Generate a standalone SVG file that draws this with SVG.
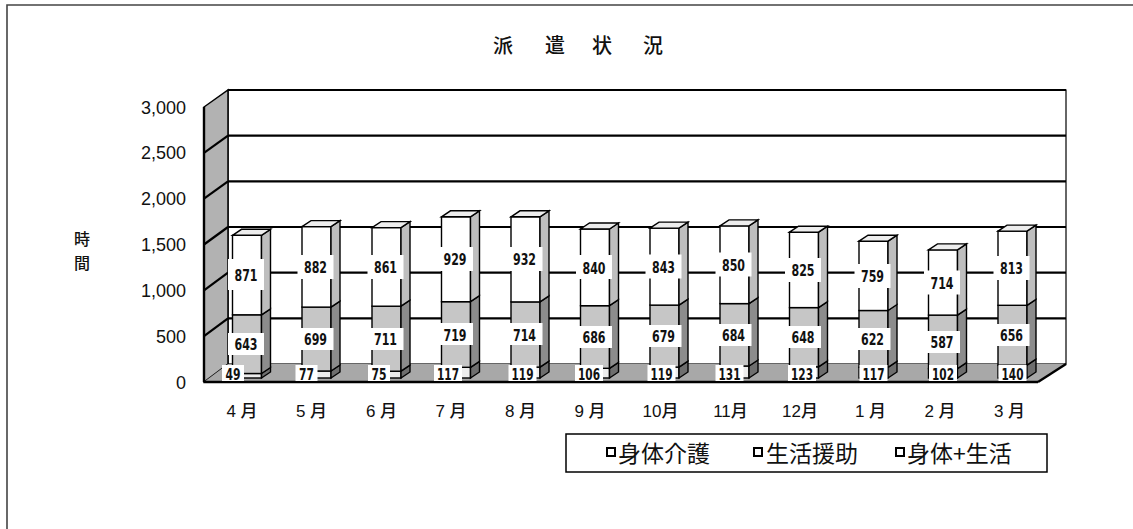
<svg xmlns="http://www.w3.org/2000/svg" width="1133" height="529" viewBox="0 0 1133 529">
<style>
.frame{fill:none;stroke:#444;stroke-width:1.6}
.wall{fill:#fff;stroke:#000;stroke-width:1.2}
.grid{stroke:#000;stroke-width:2.2;fill:none}
.lwall{fill:#b2b2b2;stroke:#000;stroke-width:1.5}
.floor{fill:#a8a8a8;stroke:none}
.edge{stroke:#000;stroke-width:2.4;fill:none}
.bar rect,.bar polygon.s,.bar polygon.tp{stroke:#000;stroke-width:1.4}
.f1{fill:#ececec}.f2{fill:#c6c6c6}.f3{fill:#fff}
.s1{fill:#6e6e6e}.s2{fill:#8c8c8c}.s3{fill:#bebebe}.tp{fill:#ededed}
.bar rect.lb{fill:#fff;stroke:none}
.v{font-family:"Liberation Sans Narrow","DejaVu Sans Condensed","Liberation Sans",sans-serif;font-size:16px;font-weight:bold;text-anchor:middle;fill:#111}
.m{font-family:"Liberation Sans","Noto Sans CJK JP",sans-serif;font-size:17px;font-weight:500;text-anchor:middle;fill:#111}
.ax{font-family:"Liberation Sans",sans-serif;font-size:18px;text-anchor:end;fill:#111}
.cjk{font-family:"Noto Sans CJK JP",sans-serif;fill:#111}
.key{fill:#fff;stroke:#000;stroke-width:2}
</style>

<path class="frame" d="M7,529 V5 H1133"/>

<g id="title"><text class="cjk" font-size="20" font-weight="500" x="493 511 545 563 592 611 643" y="53">派 遣 状 況</text></g>

<g id="plot">
  <rect class="wall" x="228" y="90" width="838" height="274"/>
  <line class="grid" x1="228" y1="90" x2="1066" y2="90" stroke-width="2.6"/>
  <line class="grid" x1="228" y1="135.7" x2="1066" y2="135.7"/>
  <line class="grid" x1="228" y1="181.3" x2="1066" y2="181.3"/>
  <line class="grid" x1="228" y1="227" x2="1066" y2="227"/>
  <line class="grid" x1="228" y1="272.7" x2="1066" y2="272.7"/>
  <line class="grid" x1="228" y1="318.3" x2="1066" y2="318.3"/>
  <polygon class="lwall" points="204,107 228,90 228,364 204,382"/>
  <line class="grid" x1="204" y1="152.8" x2="228" y2="135.7"/>
  <line class="grid" x1="204" y1="198.7" x2="228" y2="181.3"/>
  <line class="grid" x1="204" y1="244.5" x2="228" y2="227"/>
  <line class="grid" x1="204" y1="290.3" x2="228" y2="272.7"/>
  <line class="grid" x1="204" y1="336.2" x2="228" y2="318.3"/>
  <polygon class="floor" points="204,382 228,364 1066,364 1038,382"/>
  <line class="edge" x1="204" y1="382" x2="1038" y2="382"/>
  <line class="edge" x1="1038" y1="382" x2="1066" y2="364" stroke-width="1.5"/>
  <line class="edge" x1="204" y1="107" x2="204" y2="382" stroke-width="2"/>
</g>

<g id="y-axis">
  <text class="ax" x="186" y="114">3,000</text>
  <text class="ax" x="186" y="159">2,500</text>
  <text class="ax" x="186" y="205">2,000</text>
  <text class="ax" x="186" y="251">1,500</text>
  <text class="ax" x="186" y="297">1,000</text>
  <text class="ax" x="186" y="343">500</text>
  <text class="ax" x="186" y="389">0</text>
  <text class="cjk" font-size="16" font-weight="500" x="74" y="245">時</text>
  <text class="cjk" font-size="16" font-weight="500" x="74" y="269">間</text>
</g>

<g id="bar-apr" class="bar" transform="translate(232.5,0)">
  <rect class="f1" x="0" y="373.5" width="29" height="4.5"/><polygon class="s s1" points="29,378 38,372 38,367.5 29,373.5"/>
  <rect class="f2" x="0" y="314.8" width="29" height="58.7"/><polygon class="s s2" points="29,373.5 38,367.5 38,308.8 29,314.8"/>
  <rect class="f3" x="0" y="235.3" width="29" height="79.5"/><polygon class="s s3" points="29,314.8 38,308.8 38,229.3 29,235.3"/>
  <polygon class="tp" points="0,235.3 9,229.3 38,229.3 29,235.3"/>
  <rect class="lb" x="-4.5" y="259" width="36" height="31"/><text class="v" x="13.5" y="281" textLength="23" lengthAdjust="spacingAndGlyphs">871</text>
  <rect class="lb" x="-4.5" y="333" width="36" height="22"/><text class="v" x="13.5" y="350" textLength="23" lengthAdjust="spacingAndGlyphs">643</text>
  <rect class="lb" x="-10.5" y="365" width="22" height="16"/><text class="v" x="0.5" y="379.5" textLength="15" lengthAdjust="spacingAndGlyphs">49</text>
  <text class="m" x="9.5" y="417">4 月</text>
</g>

<g id="bar-may" class="bar" transform="translate(302,0)">
  <rect class="f1" x="0" y="371" width="29" height="7"/><polygon class="s s1" points="29,378 38,372 38,365 29,371"/>
  <rect class="f2" x="0" y="307.1" width="29" height="63.9"/><polygon class="s s2" points="29,371 38,365 38,301.1 29,307.1"/>
  <rect class="f3" x="0" y="226.6" width="29" height="80.5"/><polygon class="s s3" points="29,307.1 38,301.1 38,220.6 29,226.6"/>
  <polygon class="tp" points="0,226.6 9,220.6 38,220.6 29,226.6"/>
  <rect class="lb" x="-4.5" y="255" width="36" height="24"/><text class="v" x="13.5" y="273" textLength="23" lengthAdjust="spacingAndGlyphs">882</text>
  <rect class="lb" x="-4.5" y="328" width="36" height="22"/><text class="v" x="13.5" y="345" textLength="23" lengthAdjust="spacingAndGlyphs">699</text>
  <rect class="lb" x="-6.5" y="365" width="22" height="16"/><text class="v" x="4.5" y="379.5" textLength="15" lengthAdjust="spacingAndGlyphs">77</text>
  <text class="m" x="9.5" y="417">5 月</text>
</g>

<g id="bar-jun" class="bar" transform="translate(372,0)">
  <rect class="f1" x="0" y="371.2" width="29" height="6.8"/><polygon class="s s1" points="29,378 38,372 38,365.2 29,371.2"/>
  <rect class="f2" x="0" y="306.2" width="29" height="65"/><polygon class="s s2" points="29,371.2 38,365.2 38,300.2 29,306.2"/>
  <rect class="f3" x="0" y="227.6" width="29" height="78.6"/><polygon class="s s3" points="29,306.2 38,300.2 38,221.6 29,227.6"/>
  <polygon class="tp" points="0,227.6 9,221.6 38,221.6 29,227.6"/>
  <rect class="lb" x="-4.5" y="255" width="36" height="24"/><text class="v" x="13.5" y="273" textLength="23" lengthAdjust="spacingAndGlyphs">861</text>
  <rect class="lb" x="-4.5" y="328" width="36" height="22"/><text class="v" x="13.5" y="345" textLength="23" lengthAdjust="spacingAndGlyphs">711</text>
  <rect class="lb" x="-4" y="365" width="22" height="16"/><text class="v" x="7" y="379.5" textLength="15" lengthAdjust="spacingAndGlyphs">75</text>
  <text class="m" x="9.5" y="417">6 月</text>
</g>

<g id="bar-jul" class="bar" transform="translate(441.5,0)">
  <rect class="f1" x="0" y="367.3" width="29" height="10.7"/><polygon class="s s1" points="29,378 38,372 38,361.3 29,367.3"/>
  <rect class="f2" x="0" y="301.7" width="29" height="65.6"/><polygon class="s s2" points="29,367.3 38,361.3 38,295.7 29,301.7"/>
  <rect class="f3" x="0" y="216.8" width="29" height="84.9"/><polygon class="s s3" points="29,301.7 38,295.7 38,210.8 29,216.8"/>
  <polygon class="tp" points="0,216.8 9,210.8 38,210.8 29,216.8"/>
  <rect class="lb" x="-4.5" y="247" width="36" height="24"/><text class="v" x="13.5" y="265" textLength="23" lengthAdjust="spacingAndGlyphs">929</text>
  <rect class="lb" x="-4.5" y="323" width="36" height="22"/><text class="v" x="13.5" y="340.5" textLength="23" lengthAdjust="spacingAndGlyphs">719</text>
  <rect class="lb" x="-7.5" y="365" width="28" height="16"/><text class="v" x="6.5" y="379.5" textLength="22" lengthAdjust="spacingAndGlyphs">117</text>
  <text class="m" x="9.5" y="417">7 月</text>
</g>

<g id="bar-aug" class="bar" transform="translate(511,0)">
  <rect class="f1" x="0" y="367.1" width="29" height="10.9"/><polygon class="s s1" points="29,378 38,372 38,361.1 29,367.1"/>
  <rect class="f2" x="0" y="301.9" width="29" height="65.2"/><polygon class="s s2" points="29,367.1 38,361.1 38,295.9 29,301.9"/>
  <rect class="f3" x="0" y="216.8" width="29" height="85.1"/><polygon class="s s3" points="29,301.9 38,295.9 38,210.8 29,216.8"/>
  <polygon class="tp" points="0,216.8 9,210.8 38,210.8 29,216.8"/>
  <rect class="lb" x="-4.5" y="247" width="36" height="24"/><text class="v" x="13.5" y="265" textLength="23" lengthAdjust="spacingAndGlyphs">932</text>
  <rect class="lb" x="-4.5" y="323" width="36" height="22"/><text class="v" x="13.5" y="340.5" textLength="23" lengthAdjust="spacingAndGlyphs">714</text>
  <rect class="lb" x="-2.5" y="365" width="28" height="16"/><text class="v" x="11.5" y="379.5" textLength="22" lengthAdjust="spacingAndGlyphs">119</text>
  <text class="m" x="9.5" y="417">8 月</text>
</g>

<g id="bar-sep" class="bar" transform="translate(580.5,0)">
  <rect class="f1" x="0" y="368.3" width="29" height="9.7"/><polygon class="s s1" points="29,378 38,372 38,362.3 29,368.3"/>
  <rect class="f2" x="0" y="305.7" width="29" height="62.6"/><polygon class="s s2" points="29,368.3 38,362.3 38,299.7 29,305.7"/>
  <rect class="f3" x="0" y="229" width="29" height="76.7"/><polygon class="s s3" points="29,305.7 38,299.7 38,223 29,229"/>
  <polygon class="tp" points="0,229 9,223 38,223 29,229"/>
  <rect class="lb" x="-4.5" y="255" width="36" height="24"/><text class="v" x="13.5" y="273.5" textLength="23" lengthAdjust="spacingAndGlyphs">840</text>
  <rect class="lb" x="-4.5" y="326" width="36" height="22"/><text class="v" x="13.5" y="343" textLength="23" lengthAdjust="spacingAndGlyphs">686</text>
  <rect class="lb" x="-5.5" y="365" width="28" height="16"/><text class="v" x="8.5" y="379.5" textLength="22" lengthAdjust="spacingAndGlyphs">106</text>
  <text class="m" x="9.5" y="417">9 月</text>
</g>

<g id="bar-oct" class="bar" transform="translate(650,0)">
  <rect class="f1" x="0" y="367.1" width="29" height="10.9"/><polygon class="s s1" points="29,378 38,372 38,361.1 29,367.1"/>
  <rect class="f2" x="0" y="305.1" width="29" height="62"/><polygon class="s s2" points="29,367.1 38,361.1 38,299.1 29,305.1"/>
  <rect class="f3" x="0" y="228.1" width="29" height="77"/><polygon class="s s3" points="29,305.1 38,299.1 38,222.1 29,228.1"/>
  <polygon class="tp" points="0,228.1 9,222.1 38,222.1 29,228.1"/>
  <rect class="lb" x="-4.5" y="254.5" width="36" height="24"/><text class="v" x="13.5" y="272.5" textLength="23" lengthAdjust="spacingAndGlyphs">843</text>
  <rect class="lb" x="-4.5" y="325" width="36" height="22"/><text class="v" x="13.5" y="342" textLength="23" lengthAdjust="spacingAndGlyphs">679</text>
  <rect class="lb" x="-2.5" y="365" width="28" height="16"/><text class="v" x="11.5" y="379.5" textLength="22" lengthAdjust="spacingAndGlyphs">119</text>
  <text class="m" x="10.5" y="417">10月</text>
</g>

<g id="bar-nov" class="bar" transform="translate(720,0)">
  <rect class="f1" x="0" y="366" width="29" height="12"/><polygon class="s s1" points="29,378 38,372 38,360 29,366"/>
  <rect class="f2" x="0" y="303.6" width="29" height="62.4"/><polygon class="s s2" points="29,366 38,360 38,297.6 29,303.6"/>
  <rect class="f3" x="0" y="225.9" width="29" height="77.7"/><polygon class="s s3" points="29,303.6 38,297.6 38,219.9 29,225.9"/>
  <polygon class="tp" points="0,225.9 9,219.9 38,219.9 29,225.9"/>
  <rect class="lb" x="-4.5" y="252.5" width="36" height="24"/><text class="v" x="13.5" y="270.5" textLength="23" lengthAdjust="spacingAndGlyphs">850</text>
  <rect class="lb" x="-4.5" y="324" width="36" height="22"/><text class="v" x="13.5" y="341" textLength="23" lengthAdjust="spacingAndGlyphs">684</text>
  <rect class="lb" x="-4.5" y="365" width="28" height="16"/><text class="v" x="9.5" y="379.5" textLength="22" lengthAdjust="spacingAndGlyphs">131</text>
  <text class="m" x="10.5" y="417">11月</text>
</g>

<g id="bar-dec" class="bar" transform="translate(789.5,0)">
  <rect class="f1" x="0" y="366.8" width="29" height="11.2"/><polygon class="s s1" points="29,378 38,372 38,360.8 29,366.8"/>
  <rect class="f2" x="0" y="307.6" width="29" height="59.2"/><polygon class="s s2" points="29,366.8 38,360.8 38,301.6 29,307.6"/>
  <rect class="f3" x="0" y="232.2" width="29" height="75.4"/><polygon class="s s3" points="29,307.6 38,301.6 38,226.2 29,232.2"/>
  <polygon class="tp" points="0,232.2 9,226.2 38,226.2 29,232.2"/>
  <rect class="lb" x="-4.5" y="258" width="36" height="24"/><text class="v" x="13.5" y="276" textLength="23" lengthAdjust="spacingAndGlyphs">825</text>
  <rect class="lb" x="-4.5" y="326" width="36" height="22"/><text class="v" x="13.5" y="343" textLength="23" lengthAdjust="spacingAndGlyphs">648</text>
  <rect class="lb" x="-1.5" y="365" width="28" height="16"/><text class="v" x="12.5" y="379.5" textLength="22" lengthAdjust="spacingAndGlyphs">123</text>
  <text class="m" x="10.5" y="417">12月</text>
</g>

<g id="bar-jan" class="bar" transform="translate(859,0)">
  <rect class="f1" x="0" y="367.3" width="29" height="10.7"/><polygon class="s s1" points="29,378 38,372 38,361.3 29,367.3"/>
  <rect class="f2" x="0" y="310.5" width="29" height="56.8"/><polygon class="s s2" points="29,367.3 38,361.3 38,304.5 29,310.5"/>
  <rect class="f3" x="0" y="241.2" width="29" height="69.3"/><polygon class="s s3" points="29,310.5 38,304.5 38,235.2 29,241.2"/>
  <polygon class="tp" points="0,241.2 9,235.2 38,235.2 29,241.2"/>
  <rect class="lb" x="-4.5" y="264" width="36" height="24"/><text class="v" x="13.5" y="282" textLength="23" lengthAdjust="spacingAndGlyphs">759</text>
  <rect class="lb" x="-4.5" y="328" width="36" height="22"/><text class="v" x="13.5" y="345" textLength="23" lengthAdjust="spacingAndGlyphs">622</text>
  <rect class="lb" x="0.5" y="365" width="28" height="16"/><text class="v" x="14.5" y="379.5" textLength="22" lengthAdjust="spacingAndGlyphs">117</text>
  <text class="m" x="11.5" y="417">1 月</text>
</g>

<g id="bar-feb" class="bar" transform="translate(928.5,0)">
  <rect class="f1" x="0" y="368.7" width="29" height="9.3"/><polygon class="s s1" points="29,378 38,372 38,362.7 29,368.7"/>
  <rect class="f2" x="0" y="315.1" width="29" height="53.6"/><polygon class="s s2" points="29,368.7 38,362.7 38,309.1 29,315.1"/>
  <rect class="f3" x="0" y="249.9" width="29" height="65.2"/><polygon class="s s3" points="29,315.1 38,309.1 38,243.9 29,249.9"/>
  <polygon class="tp" points="0,249.9 9,243.9 38,243.9 29,249.9"/>
  <rect class="lb" x="-4.5" y="270.5" width="36" height="24"/><text class="v" x="13.5" y="288.5" textLength="23" lengthAdjust="spacingAndGlyphs">714</text>
  <rect class="lb" x="-4.5" y="331" width="36" height="22"/><text class="v" x="13.5" y="348" textLength="23" lengthAdjust="spacingAndGlyphs">587</text>
  <rect class="lb" x="0.5" y="365" width="28" height="16"/><text class="v" x="14.5" y="379.5" textLength="22" lengthAdjust="spacingAndGlyphs">102</text>
  <text class="m" x="11.5" y="417">2 月</text>
</g>

<g id="bar-mar" class="bar" transform="translate(998,0)">
  <rect class="f1" x="0" y="365.2" width="29" height="12.8"/><polygon class="s s1" points="29,378 38,372 38,359.2 29,365.2"/>
  <rect class="f2" x="0" y="305.3" width="29" height="59.9"/><polygon class="s s2" points="29,365.2 38,359.2 38,299.3 29,305.3"/>
  <rect class="f3" x="0" y="231.1" width="29" height="74.2"/><polygon class="s s3" points="29,305.3 38,299.3 38,225.1 29,231.1"/>
  <polygon class="tp" points="0,231.1 9,225.1 38,225.1 29,231.1"/>
  <rect class="lb" x="-4.5" y="256" width="36" height="24"/><text class="v" x="13.5" y="274" textLength="23" lengthAdjust="spacingAndGlyphs">813</text>
  <rect class="lb" x="-4.5" y="324" width="36" height="22"/><text class="v" x="13.5" y="341" textLength="23" lengthAdjust="spacingAndGlyphs">656</text>
  <rect class="lb" x="0.5" y="365" width="28" height="16"/><text class="v" x="14.5" y="379.5" textLength="22" lengthAdjust="spacingAndGlyphs">140</text>
  <text class="m" x="11.5" y="417">3 月</text>
</g>

<g id="legend">
  <rect x="566" y="434" width="481" height="38" fill="#fff" stroke="#000" stroke-width="1.5"/>
  <rect class="key" x="607" y="448" width="8" height="8"/>
  <text class="cjk" font-size="23" x="618" y="462">身体介護</text>
  <rect class="key" x="754" y="448" width="8" height="8"/>
  <text class="cjk" font-size="23" x="766" y="462">生活援助</text>
  <rect class="key" x="896" y="448" width="8" height="8"/>
  <text class="cjk" font-size="23" x="907" y="462">身体+生活</text>
</g>
</svg>
